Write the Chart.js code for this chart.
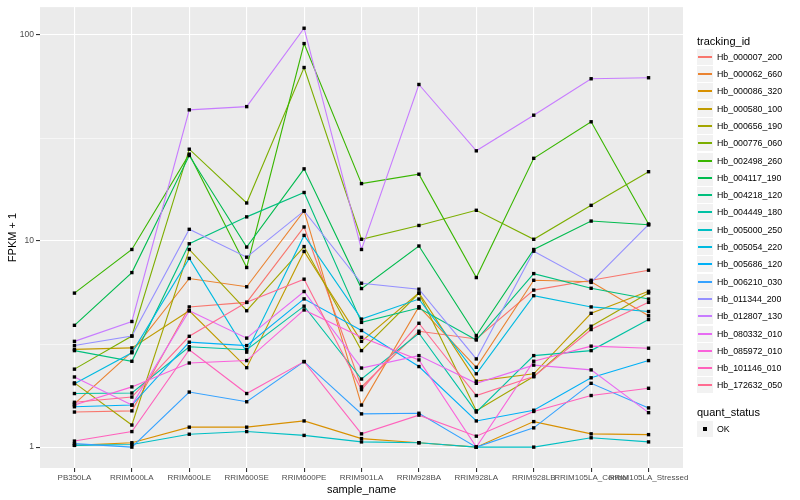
<!DOCTYPE html>
<html>
<head>
<meta charset="utf-8">
<script src="https://cdn.jsdelivr.net/npm/chart.js@4.4.1/dist/chart.umd.min.js"></script>
<style>
  html, body { margin: 0; padding: 0; background: #fff; }
  #wrap { position: relative; width: 800px; height: 500px; font-family: "Liberation Sans", Arial, sans-serif; }
  #wrap canvas { position: absolute; left: 0; top: 0; }
  .ttl { position: absolute; left: 697px; font-size: 11px; line-height: 14px; white-space: nowrap; color: #000; }
  .key { position: absolute; left: 697px; width: 16px; height: 16px; background: #f2f2f2; }
  .key .ln { position: absolute; left: 1px; right: 1px; top: 7px; height: 2px; }
  .key .pt { position: absolute; left: 6px; top: 6px; width: 4px; height: 4px; background: #000; }
  .lbl { position: absolute; left: 717px; font-size: 8.8px; line-height: 12px; white-space: nowrap; color: #000; }
</style>
</head>
<body>
<div id="wrap">
  <canvas id="chart" width="800" height="500"></canvas>
</div>
<script>
const sampleNames = ['PB350LA', 'RRIM600LA', 'RRIM600LE', 'RRIM600SE', 'RRIM600PE', 'RRIM901LA',
  'RRIM928BA', 'RRIM928LA', 'RRIM928LB', 'RRIM105LA_Control', 'RRIM105LA_Stressed'];

const trackingIds = ['Hb_000007_200', 'Hb_000062_660', 'Hb_000086_320', 'Hb_000580_100', 'Hb_000656_190',
  'Hb_000776_060', 'Hb_002498_260', 'Hb_004117_190', 'Hb_004218_120', 'Hb_004449_180', 'Hb_005000_250',
  'Hb_005054_220', 'Hb_005686_120', 'Hb_006210_030', 'Hb_011344_200', 'Hb_012807_130', 'Hb_080332_010',
  'Hb_085972_010', 'Hb_101146_010', 'Hb_172632_050'];

// ggplot default hue palette, 20 levels
const hueColors = ['#F8766D', '#EA8331', '#D89000', '#C09B00', '#A3A500', '#7CAE00', '#39B600', '#00BB4E',
  '#00BF7D', '#00C1A3', '#00BFC4', '#00BAE0', '#00B0F6', '#35A2FF', '#9590FF', '#C77CFF', '#E76BF3',
  '#FA62DB', '#FF62BC', '#FF6C91'];

// FPKM + 1, one value per sample
const hb_000007_200 = [1.48, 1.50, 4.79, 5.04, 11.7, 1.96, 3.65, 3.35, 5.78, 6.45, 7.22];
const hb_000062_660 = [1.62, 2.90, 6.58, 6.00, 14.0, 1.60, 4.80, 2.44, 6.45, 6.35, 4.34];
const hb_000086_320 = [1.02, 1.05, 1.25, 1.25, 1.34, 1.10, 1.05, 1.00, 1.33, 1.16, 1.15];
const hb_000580_100 = [2.98, 3.03, 4.59, 2.43, 8.90, 3.26, 5.60, 2.09, 2.27, 4.46, 5.70];
const hb_000656_190 = [2.05, 1.28, 9.10, 4.59, 9.40, 2.94, 5.58, 1.50, 2.20, 3.86, 5.60];
const hb_000776_060 = [2.39, 3.46, 27.9, 15.3, 69.5, 10.2, 11.9, 14.1, 10.2, 14.9, 21.7];
const hb_002498_260 = [5.59, 9.10, 26.4, 7.44, 90.8, 19.0, 21.1, 6.65, 25.2, 37.9, 12.1];
const hb_004117_190 = [3.90, 7.03, 26.0, 9.35, 22.4, 5.88, 9.46, 3.48, 9.10, 12.5, 12.0];
const hb_004218_120 = [2.94, 2.61, 9.70, 13.1, 17.2, 4.03, 4.73, 3.31, 6.95, 5.90, 5.23];
const hb_004449_180 = [1.82, 1.83, 3.07, 2.97, 4.83, 2.14, 3.57, 1.48, 2.78, 2.94, 4.16];
const hb_005000_250 = [1.02, 1.03, 1.155, 1.19, 1.14, 1.06, 1.05, 1.00, 1.00, 1.11, 1.06];
const hb_005054_220 = [2.03, 2.87, 8.24, 2.89, 10.65, 4.18, 5.23, 2.27, 5.43, 4.79, 4.55];
const hb_005686_120 = [1.57, 1.60, 3.23, 3.11, 5.24, 3.68, 2.46, 1.34, 1.51, 2.17, 2.63];
const hb_006210_030 = [1.04, 1.00, 1.85, 1.66, 2.60, 1.45, 1.46, 1.00, 1.24, 2.04, 1.55];
const hb_011344_200 = [3.11, 3.46, 11.4, 8.35, 14.0, 6.24, 5.84, 2.68, 8.93, 6.30, 12.0];
const hb_012807_130 = [3.26, 4.07, 43.3, 44.9, 107.8, 9.10, 57.5, 27.4, 40.8, 61.3, 62.0];
const hb_080332_010 = [2.19, 1.60, 4.59, 3.38, 5.69, 2.42, 2.78, 2.04, 2.50, 2.37, 1.47];
const hb_085972_010 = [1.60, 1.96, 2.56, 2.63, 4.63, 3.41, 2.65, 1.00, 2.61, 3.09, 3.02];
const hb_101146_010 = [1.07, 1.19, 2.97, 1.82, 2.60, 1.16, 1.43, 1.13, 1.49, 1.78, 1.93];
const hb_172632_050 = [1.65, 1.75, 3.45, 5.04, 6.53, 1.90, 3.99, 1.78, 2.20, 3.72, 5.04];

const seriesValues = [hb_000007_200, hb_000062_660, hb_000086_320, hb_000580_100, hb_000656_190,
  hb_000776_060, hb_002498_260, hb_004117_190, hb_004218_120, hb_004449_180, hb_005000_250,
  hb_005054_220, hb_005686_120, hb_006210_030, hb_011344_200, hb_012807_130, hb_080332_010,
  hb_085972_010, hb_101146_010, hb_172632_050];

const yBreaks = [1, 10, 100];
const yMinorBreaks = [3.162, 31.62];

const FONT = '"Liberation Sans", Arial, sans-serif';

const panelBg = {
  id: 'panelBg',
  beforeDraw(chart) {
    const { ctx, chartArea: a } = chart;
    ctx.save();
    ctx.fillStyle = '#ebebeb';
    ctx.fillRect(a.left, a.top, a.right - a.left, a.bottom - a.top);
    ctx.restore();
  },
};

const datasets = trackingIds.map((id, i) => ({
  label: id,
  data: seriesValues[i].map((v, j) => ({ x: j, y: v })),
  borderColor: hueColors[i],
  backgroundColor: hueColors[i],
  borderWidth: 1.1,
  pointRadius: 0,
  tension: 0,
  order: trackingIds.length - i,
}));

// quant_status = OK points drawn over all lines
datasets.push({
  label: 'OK',
  data: seriesValues.flatMap(vals => vals.map((v, j) => ({ x: j, y: v }))),
  showLine: false,
  pointStyle: 'rect',
  pointRadius: 2.4,
  backgroundColor: '#000',
  borderColor: '#000',
  borderWidth: 0,
  order: -1,
});

new Chart(document.getElementById('chart'), {
  type: 'line',
  data: { datasets },
  options: {
    responsive: false,
    animation: false,
    devicePixelRatio: 1,
    layout: { padding: { top: 5, right: 117, left: 0, bottom: 0 } },
    plugins: { legend: { display: false }, tooltip: { enabled: false } },
    scales: {
      x: {
        type: 'linear',
        min: -0.6,
        max: 10.6,
        afterBuildTicks: s => { s.ticks = sampleNames.map((_, i) => ({ value: i })); },
        afterFit: s => { s.height = 32; },
        ticks: {
          autoSkip: false, maxRotation: 0, minRotation: 0, padding: 1,
          color: '#4d4d4d', font: { size: 8, family: FONT },
          callback: v => sampleNames[v] ?? '',
        },
        grid: { color: '#ffffff', lineWidth: 1.1, tickLength: 4, tickColor: '#333333' },
        border: { display: false },
        title: {
          display: true, text: 'sample_name', color: '#000',
          font: { size: 11, family: FONT }, padding: { top: 0, bottom: 3 },
        },
      },
      y: {
        type: 'logarithmic',
        min: 0.792,
        max: 136.5,
        afterBuildTicks: s => {
          s.ticks = [...yBreaks, ...yMinorBreaks].sort((a, b) => a - b).map(v => ({ value: v }));
        },
        afterFit: s => { s.width = 40; },
        ticks: {
          padding: 2, color: '#4d4d4d', font: { size: 8.5, family: FONT },
          callback: v => (yBreaks.includes(v) ? String(v) : ''),
        },
        grid: {
          color: '#ffffff',
          lineWidth: c => (yBreaks.includes(c.tick && c.tick.value) ? 1.1 : 0.55),
          tickLength: 4,
          tickColor: c => (yBreaks.includes(c.tick && c.tick.value) ? '#333333' : 'rgba(0,0,0,0)'),
        },
        border: { display: false },
        title: {
          display: true, text: 'FPKM + 1', color: '#000',
          font: { size: 11, family: FONT }, padding: { top: 6, bottom: 0 },
        },
      },
    },
  },
  plugins: [panelBg],
});

// legend, ggplot style
const wrap = document.getElementById('wrap');
function addEl(cls, top, html) {
  const d = document.createElement('div');
  d.className = cls;
  d.style.top = Math.round(top) + 'px';
  if (html !== undefined) d.innerHTML = html;
  wrap.appendChild(d);
  return d;
}
addEl('ttl', 33.5, 'tracking_id');
trackingIds.forEach((id, i) => {
  const cy = 56.7 + i * 17.3;
  const k = addEl('key', cy - 8);
  const ln = document.createElement('div');
  ln.className = 'ln';
  ln.style.background = hueColors[i];
  k.appendChild(ln);
  addEl('lbl', cy - 6, id);
});
addEl('ttl', 405, 'quant_status');
const okKey = addEl('key', 429 - 8);
const pt = document.createElement('div');
pt.className = 'pt';
okKey.appendChild(pt);
addEl('lbl', 429 - 6, 'OK');
</script>
</body>
</html>
